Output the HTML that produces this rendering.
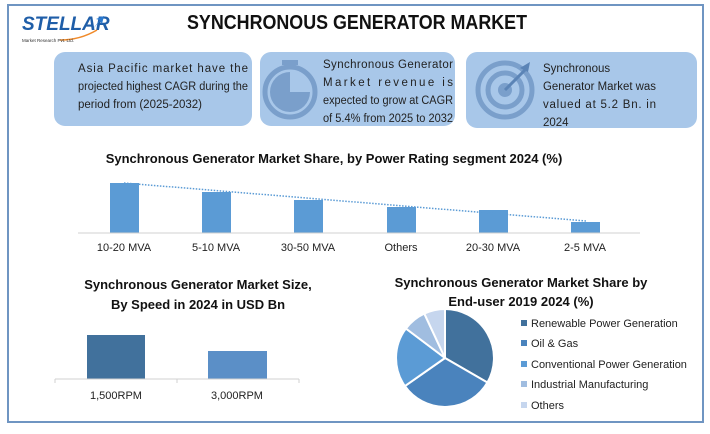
<!DOCTYPE html>
<html><head><meta charset="utf-8"><style>
body{margin:0;width:710px;height:429px;background:#fff;overflow:hidden;font-family:"Liberation Sans",sans-serif}
</style></head><body>
<svg width="710" height="429" xmlns="http://www.w3.org/2000/svg" font-family="Liberation Sans, sans-serif">
<rect x="8" y="5" width="695" height="417" fill="#fff" stroke="#6f95c2" stroke-width="2"/>
<!-- logo -->
<text x="22" y="30" font-size="19" font-weight="bold" fill="#1f5ea8" font-style="italic">STELLAR</text>
<path d="M92 30 L100 20 L96 19 L104 16 L102 24 L100 21" fill="#2a7ad0"/>
<path d="M60 40 Q80 40 97 30" stroke="#f08a2a" stroke-width="1.5" fill="none"/>
<text x="22" y="42" font-size="4.5" fill="#333">Market Research Pvt. Ltd.</text>
<text x="357" y="29" font-size="20" font-weight="bold" text-anchor="middle" fill="#111" textLength="340" lengthAdjust="spacingAndGlyphs">SYNCHRONOUS GENERATOR MARKET</text>
<!-- boxes -->
<rect x="54" y="52" width="198" height="74" rx="11" fill="#a8c7e9"/>
<rect x="260" y="52" width="195" height="74" rx="11" fill="#a8c7e9"/>
<rect x="466" y="52" width="231" height="76" rx="11" fill="#a8c7e9"/>
<g font-size="11.5" fill="#222">
<text x="78" y="72" textLength="170" lengthAdjust="spacing">Asia Pacific market have the</text>
<text x="78" y="90" textLength="170" lengthAdjust="spacingAndGlyphs">projected highest CAGR during the</text>
<text x="78" y="108">period from (2025-2032)</text>
<text x="323" y="68" textLength="130" lengthAdjust="spacing">Synchronous Generator</text>
<text x="323" y="86" textLength="130" lengthAdjust="spacing">Market revenue is</text>
<text x="323" y="104" textLength="130" lengthAdjust="spacingAndGlyphs">expected to grow at CAGR</text>
<text x="323" y="122" textLength="130" lengthAdjust="spacingAndGlyphs">of 5.4% from 2025 to 2032</text>
<text x="543" y="72">Synchronous</text>
<text x="543" y="90" textLength="113" lengthAdjust="spacingAndGlyphs">Generator Market was</text>
<text x="543" y="108" textLength="113" lengthAdjust="spacing">valued at 5.2 Bn. in</text>
<text x="543" y="126">2024</text>
</g>
<!-- stopwatch icon -->
<circle cx="290" cy="92" r="25" fill="none" stroke="#7a9fcb" stroke-width="5"/>
<path d="M290 92 L290 72 A20 20 0 1 0 310 92 Z" fill="#7a9fcb"/>
<rect x="282" y="60" width="16" height="5" fill="#7a9fcb"/>
<!-- target icon -->
<circle cx="505" cy="90" r="27" fill="none" stroke="#7a9fcb" stroke-width="5"/>
<circle cx="505" cy="90" r="17" fill="none" stroke="#7a9fcb" stroke-width="5"/>
<circle cx="505" cy="90" r="7" fill="#7a9fcb"/>
<path d="M505 90 L525 70" stroke="#5b84b6" stroke-width="3"/>
<path d="M520 68 L530 62 L528 72 Z" fill="#5b84b6"/>
<!-- top chart -->
<text x="334" y="163" font-size="13" font-weight="bold" text-anchor="middle" fill="#111">Synchronous Generator Market Share, by Power Rating segment 2024 (%)</text>
<g fill="#5b9bd5">
<rect x="110" y="183" width="29" height="50"/>
<rect x="202" y="192" width="29" height="41"/>
<rect x="294" y="200" width="29" height="33"/>
<rect x="387" y="207" width="29" height="26"/>
<rect x="479" y="210" width="29" height="23"/>
<rect x="571" y="222" width="29" height="11"/>
</g>
<line x1="78" y1="233" x2="640" y2="233" stroke="#d0d0d0"/>
<line x1="124" y1="183" x2="586" y2="221" stroke="#5b9bd5" stroke-width="1.5" stroke-dasharray="1.5,1.5"/>
<g font-size="11" fill="#222" text-anchor="middle">
<text x="124" y="251">10-20 MVA</text><text x="216" y="251">5-10 MVA</text><text x="308" y="251">30-50 MVA</text>
<text x="401" y="251">Others</text><text x="493" y="251">20-30 MVA</text><text x="585" y="251">2-5 MVA</text>
</g>
<!-- bottom left -->
<text x="198" y="289" font-size="13" font-weight="bold" text-anchor="middle" fill="#111">Synchronous Generator Market Size,</text>
<text x="198" y="309" font-size="13" font-weight="bold" text-anchor="middle" fill="#111">By Speed in 2024 in USD Bn</text>
<rect x="87" y="335" width="58" height="44" fill="#41719c"/>
<rect x="208" y="351" width="59" height="28" fill="#5b8fc7"/>
<path d="M55 379 H299 M55 379 V383 M177 379 V383 M299 379 V383" stroke="#d0d0d0"/>
<g font-size="11" fill="#222" text-anchor="middle"><text x="116" y="399">1,500RPM</text><text x="237" y="399">3,000RPM</text></g>
<!-- pie -->
<text x="521" y="287" font-size="13" font-weight="bold" text-anchor="middle" fill="#111">Synchronous Generator Market Share by</text>
<text x="521" y="306" font-size="13" font-weight="bold" text-anchor="middle" fill="#111">End-user 2019 2024 (%)</text>
<g stroke="#fff" stroke-width="2">
<path d="M445 358 L445 309 A49 49 0 0 1 487.4 382.5 Z" fill="#41719c"/>
<path d="M445 358 L487.4 382.5 A49 49 0 0 1 404.9 386.1 Z" fill="#4a83bd"/>
<path d="M445 358 L404.9 386.1 A49 49 0 0 1 405.9 328.5 Z" fill="#5b9bd5"/>
<path d="M445 358 L405.9 328.5 A49 49 0 0 1 424.3 313.6 Z" fill="#a0bde0"/>
<path d="M445 358 L424.3 313.6 A49 49 0 0 1 445 309 Z" fill="#c6d6ee"/>
</g>
<g font-size="11" fill="#222">
<rect x="521" y="320" width="6" height="6" fill="#41719c"/><text x="531" y="327">Renewable Power Generation</text>
<rect x="521" y="340" width="6" height="6" fill="#4a83bd"/><text x="531" y="347">Oil &amp; Gas</text>
<rect x="521" y="361" width="6" height="6" fill="#5b9bd5"/><text x="531" y="368">Conventional Power Generation</text>
<rect x="521" y="381" width="6" height="6" fill="#a0bde0"/><text x="531" y="388">Industrial Manufacturing</text>
<rect x="521" y="402" width="6" height="6" fill="#c6d6ee"/><text x="531" y="409">Others</text>
</g>
</svg>
</body></html>
